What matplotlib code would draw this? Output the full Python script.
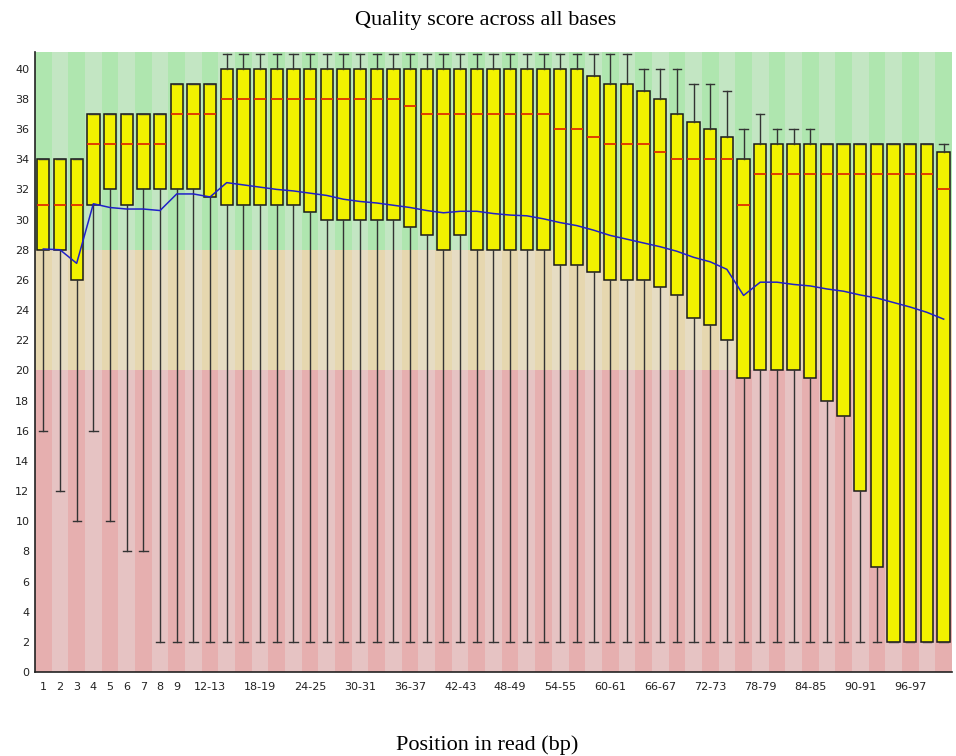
import matplotlib
matplotlib.use('Agg')
import matplotlib.pyplot as plt

# position bins (1..9 single, then pairs up to 100-101)
bins = [str(i) for i in range(1, 10)] + ['{}-{}'.format(i, i + 1) for i in range(10, 101, 2)]

# 10th / 25th / 50th / 75th / 90th percentiles and mean, per bin
whis_lo = [16, 12, 10, 16, 10, 8, 8] + [2] * 48
q1 = [28, 28, 26, 31, 32, 31, 32, 32, 32, 32, 31.5,
      31, 31, 31, 31, 31, 30.5, 30, 30, 30, 30, 30, 29.5, 29, 28, 29, 28, 28, 28, 28, 28,
      27, 27, 26.5, 26, 26, 26, 25.5, 25, 23.5, 23, 22, 19.5, 20, 20, 20, 19.5, 18, 17, 12, 7,
      2, 2, 2, 2]
med = [31, 31, 31, 35, 35, 35, 35, 35, 37, 37, 37,
       38, 38, 38, 38, 38, 38, 38, 38, 38, 38, 38, 37.5, 37, 37, 37, 37, 37, 37, 37, 37,
       36, 36, 35.5, 35, 35, 35, 34.5, 34, 34, 34, 34, 31, 33, 33, 33, 33, 33, 33, 33, 33,
       33, 33, 33, 32]
q3 = [34, 34, 34, 37, 37, 37, 37, 37, 39, 39, 39,
      40, 40, 40, 40, 40, 40, 40, 40, 40, 40, 40, 40, 40, 40, 40, 40, 40, 40, 40, 40,
      40, 40, 39.5, 39, 39, 38.5, 38, 37, 36.5, 36, 35.5, 34, 35, 35, 35, 35, 35, 35, 35, 35,
      35, 35, 35, 34.5]
whis_hi = [34, 34, 34, 37, 37, 37, 37, 37, 39, 39, 39,
           41, 41, 41, 41, 41, 41, 41, 41, 41, 41, 41, 41, 41, 41, 41, 41, 41, 41, 41, 41,
           41, 41, 41, 41, 41, 40, 40, 40, 39, 39, 38.5, 36, 37, 36, 36, 36, 35, 35, 35, 35,
           35, 35, 35, 35]
mean = [28.05, 28.0, 27.1, 31.05, 30.8, 30.7, 30.7, 30.6, 31.7, 31.7, 31.5,
        32.45, 32.3, 32.15, 32.0, 31.9, 31.75, 31.6, 31.35, 31.2, 31.1, 30.95, 30.8, 30.6,
        30.45, 30.55, 30.55, 30.4, 30.3, 30.25, 30.05, 29.8, 29.6, 29.3, 28.95, 28.7, 28.45,
        28.2, 27.9, 27.5, 27.2, 26.7, 24.97, 25.85, 25.85, 25.7, 25.6, 25.4, 25.25, 25.0,
        24.8, 24.5, 24.2, 23.85, 23.4]

shown_labels = [str(i) for i in range(1, 10)] + ['12-13', '18-19', '24-25', '30-31', '36-37',
                                                 '42-43', '48-49', '54-55', '60-61', '66-67',
                                                 '72-73', '78-79', '84-85', '90-91', '96-97']

y_top = 41.1
# background bands: (bottom, top, dark colour, light colour)
bands = [(0, 20, '#e6afaf', '#e6c3c3'),
         (20, 28, '#e6d7af', '#e6dcc3'),
         (28, y_top, '#afe6af', '#c3e6c3')]

fig = plt.figure(figsize=(9.56, 7.56), dpi=100)
ax = fig.add_axes([0.0366, 0.111, 0.9592, 0.820])

n = len(bins)
x = list(range(n))
for lo, hi, dark, light in bands:
    cols = [dark if i % 2 == 0 else light for i in x]
    ax.bar(x, hi - lo, bottom=lo, width=1.0, color=cols, linewidth=0, zorder=0)

stats = []
for i in range(n):
    stats.append({'label': bins[i], 'whislo': whis_lo[i], 'q1': q1[i], 'med': med[i],
                  'q3': q3[i], 'whishi': whis_hi[i], 'fliers': []})

ax.bxp(stats, positions=x, widths=0.74, patch_artist=True, showfliers=False,
       boxprops=dict(facecolor='#f2f200', edgecolor='#1a1a1a', linewidth=1.1),
       medianprops=dict(color='#e03000', linewidth=1.3),
       whiskerprops=dict(color='#333333', linewidth=1.0),
       capprops=dict(color='#333333', linewidth=1.0),
       capwidths=0.5, zorder=2)

ax.plot(x, mean, color='#2020c8', linewidth=1.1, zorder=3)

ax.set_xlim(-0.5, n - 0.5)
ax.set_ylim(0, y_top)
ax.set_yticks(range(0, 41, 2))
ax.set_xticks([bins.index(s) for s in shown_labels])
ax.set_xticklabels(shown_labels)
ax.tick_params(axis='both', length=0, labelsize=8, colors='#222222', pad=7)
ax.tick_params(axis='y', pad=4)

for side in ['top', 'right']:
    ax.spines[side].set_visible(False)
for side in ['left', 'bottom']:
    ax.spines[side].set_color('#222222')
    ax.spines[side].set_linewidth(1.2)
    ax.spines[side].set_zorder(5)

fig.text(0.508, 0.973, 'Quality score across all bases', ha='center', va='center',
         family='Liberation Serif', fontsize=16)
fig.text(0.51, 0.015, 'Position in read (bp)', ha='center', va='center',
         family='Liberation Serif', fontsize=16)

fig.savefig('out.png', dpi=100)
